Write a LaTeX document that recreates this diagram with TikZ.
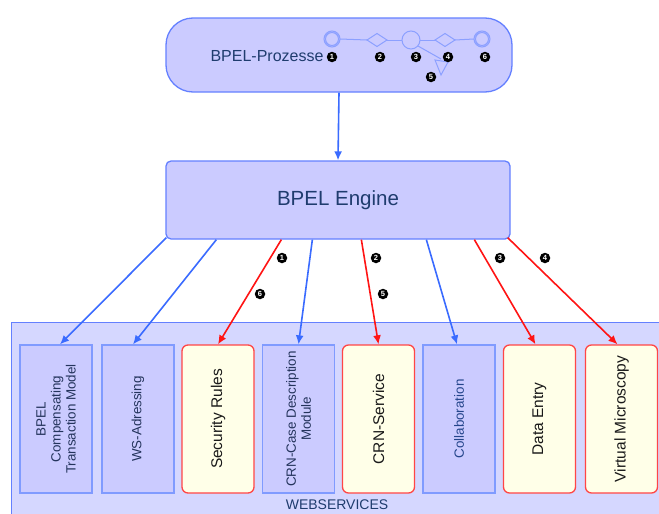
\documentclass[tikz,border=0pt]{standalone}
\usepackage{fontspec}
\setmainfont{Liberation Sans}
\usetikzlibrary{arrows.meta}

\definecolor{boxfill}{RGB}{203,203,255}
\definecolor{boxdraw}{RGB}{100,128,255}
\definecolor{contfill}{RGB}{213,215,255}
\definecolor{svcdraw}{RGB}{128,155,255}
\definecolor{yelfill}{RGB}{255,255,232}
\definecolor{reddraw}{RGB}{255,70,70}
\definecolor{arrblue}{RGB}{58,107,255}
\definecolor{arrred}{RGB}{255,20,20}
\definecolor{glyphcol}{RGB}{140,160,255}
\definecolor{textblue}{RGB}{31,60,110}
\definecolor{slate}{RGB}{36,52,92}

\tikzset{
  svc/.style={draw=svcdraw, fill=boxfill, line width=1.3pt, minimum width=72pt, minimum height=148pt, inner sep=0pt},
  svcred/.style={svc, draw=reddraw, fill=yelfill, rounded corners=6pt},
  svctext/.style={rotate=90, align=center, text=slate, font=\fontsize{13.4}{15}\selectfont},
  redtext/.style={rotate=90, align=center, text=black!90, font=\fontsize{15.5}{17}\selectfont},
  bluearrow/.style={draw=arrblue, line width=1.6pt, -{Latex[length=9pt,width=8pt]}},
  redarrow/.style={draw=arrred, line width=1.6pt, -{Latex[length=9pt,width=8pt]}},
  nr/.style={circle, fill=black, text=white, inner sep=0pt, minimum size=10.5pt, font=\fontsize{7.5}{7.5}\selectfont\bfseries},
  glyph/.style={draw=glyphcol, line width=1pt}
}

\begin{document}
\begin{tikzpicture}[x=1pt,y=-1pt]
    \useasboundingbox (0,0) rectangle (659,514);

    % Prozess-Box oben
    \node[draw=boxdraw, fill=boxfill, line width=1.3pt, rounded corners=27pt,
          minimum width=346pt, minimum height=74pt] (proc) at (339,55) {};
    \node[text=textblue, font=\fontsize{16}{18}\selectfont] (proclabel) at (267,56) {BPEL-Prozesse};

    % kleiner Ablauf im Prozess
    \draw[glyph] (332,39) circle (8) (332,39) circle (6.5);
    \draw[glyph] (340,39) -- (367,40);
    \draw[glyph] (367,40) -- (377,33.5) -- (387,40) -- (377,46.5) -- cycle;
    \draw[glyph] (387,40) -- (402,40);
    \draw[glyph] (411,40) circle (9);
    \draw[glyph] (420,40) -- (435,40);
    \draw[glyph] (435,40) -- (445,33.5) -- (455,40) -- (445,46.5) -- cycle;
    \draw[glyph] (455,40) -- (474,39);
    \draw[glyph] (482,39) circle (8) (482,39) circle (6.5);
    \draw[glyph] (418,46) -- (441,59);
    \draw[glyph] (435,60) -- (448,62) -- (441,75) -- cycle;

    % Nummern im Prozess
    \node[nr] (pn1) at (332,57) {1};
    \node[nr] (pn2) at (380,57) {2};
    \node[nr] (pn3) at (416,57) {3};
    \node[nr] (pn4) at (448,57) {4};
    \node[nr] (pn5) at (431,77) {5};
    \node[nr] (pn6) at (485,57) {6};

    % Engine
    \node[draw=boxdraw, fill=boxfill, line width=1.3pt, rounded corners=5pt,
          minimum width=344pt, minimum height=78pt, text=textblue,
          font=\fontsize{20.5}{24}\selectfont] (engine) at (338,200) {BPEL Engine};

    \draw[bluearrow] (proc.south) -- (engine.north);

    % Webservices-Bereich
    \fill[contfill] (11,322) rectangle (659,514);
    \draw[boxdraw, line width=1pt] (11,514) |- (659,322);
    \node[text=textblue, font=\fontsize{14}{16}\selectfont] (wslabel) at (337,505) {WEBSERVICES};

    % die einzelnen Dienste
    \node[svc] (s1) at (56,419) {};
    \node[svctext] at (s1) {BPEL\\Compensating\\Transaction Model};
    \node[svc] (s2) at (138,419) {};
    \node[svctext] at (s2) {WS-Adressing};
    \node[svcred] (s3) at (218,419) {};
    \node[redtext] at (s3) {Security Rules};
    \node[svc] (s4) at (298.5,419) {};
    \node[svctext] at (s4) {CRN-Case Description\\Module};
    \node[svcred] (s5) at (378.5,419) {};
    \node[redtext] at (s5) {CRN-Service};
    \node[svc] (s6) at (459,419) {};
    \node[svctext, text=textblue!80!arrblue] at (s6) {Collaboration};
    \node[svcred] (s7) at (539.5,419) {};
    \node[redtext] at (s7) {Data Entry};
    \node[svcred] (s8) at (621.5,419) {};
    \node[redtext] at (s8) {Virtual Microscopy};

    % Aufrufe der Engine
    \draw[bluearrow] ([xshift=1pt,yshift=2pt]engine.south west) -- ([xshift=4pt]s1.north);
    \draw[bluearrow] ([xshift=51pt]engine.south west) -- ([xshift=-5pt]s2.north);
    \draw[redarrow] ([xshift=116pt]engine.south west) -- (s3.north);
    \draw[bluearrow] ([xshift=147pt]engine.south west) -- (s4.north);
    \draw[redarrow] ([xshift=196pt]engine.south west) -- (s5.north);
    \draw[bluearrow] ([xshift=261pt]engine.south west) -- ([xshift=-2pt]s6.north);
    \draw[redarrow] ([xshift=309pt]engine.south west) -- ([xshift=-4pt]s7.north);
    \draw[redarrow] ([xshift=-3pt,yshift=2pt]engine.south east) -- ([xshift=-4pt]s8.north);

    % Nummern an den Pfeilen
    \node[nr] (an1) at (282,258) {1};
    \node[nr] (an6) at (260,294) {6};
    \node[nr] (an2) at (376,258) {2};
    \node[nr] (an5) at (383,294) {5};
    \node[nr] (an3) at (500,258) {3};
    \node[nr] (an4) at (545,258) {4};

\end{tikzpicture}
\end{document}
